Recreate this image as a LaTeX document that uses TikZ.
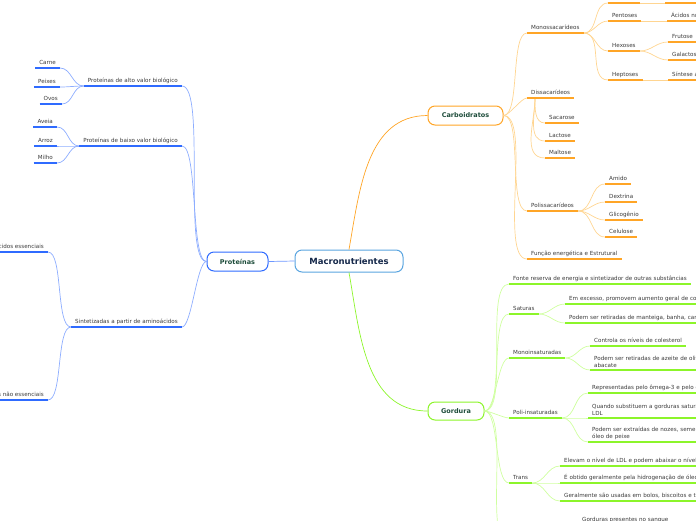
\documentclass[tikz,border=0pt]{standalone}
\usepackage{fontspec}
\setmainfont{DejaVu Sans}
\usepackage{xcolor}
\definecolor{protbarc}{HTML}{2F6BFF}
\definecolor{protlinec}{HTML}{8DADFF}
\definecolor{carbbarc}{HTML}{FFA526}
\definecolor{carblinec}{HTML}{FFD591}
\definecolor{gordbarc}{HTML}{8CF52A}
\definecolor{gordlinec}{HTML}{CFFFA0}
\definecolor{leaftext}{HTML}{3A3A3A}
\definecolor{hubtext}{HTML}{1E4D3B}
\definecolor{macroedge}{HTML}{5AA5E0}
\definecolor{macrotext}{HTML}{15284A}
\tikzset{
    leafbase/.style={font=\fontsize{5.6}{7}\selectfont, text=leaftext, inner xsep=4pt, inner ysep=2.2pt},
    leaf/.style={leafbase, text height=4.2pt, text depth=1.3pt},
    cutleaf/.style={leaf, text width=170pt, align=left},
    twoline/.style={leafbase, text width=170pt, align=left},
    blank/.style={leaf, minimum width=#1},
    bar/.style={draw=#1, line width=1.7pt},
    twig/.style={draw=#1, line width=0.7pt},
    hub/.style={draw=#1, line width=1pt, fill=white, rounded corners=7pt, text=hubtext,
        font=\fontsize{6.5}{8}\selectfont\bfseries, inner sep=0pt}
}
\begin{document}
\begin{tikzpicture}[x=1pt, y=-1pt]
    \useasboundingbox (0,0) rectangle (696,520);
    \clip (0,0) rectangle (696,520);

    % centre and main topics
    \node[hub=macroedge, text=macrotext, font=\fontsize{8.5}{10}\selectfont\bfseries,
        minimum width=108pt, minimum height=22pt] (macro) at (349,261) {Macronutrientes};
    \node[hub=protbarc, minimum width=61pt, minimum height=19pt] (prot) at (237.5,261.5) {Proteínas};
    \node[hub=carbbarc, minimum width=75pt, minimum height=19pt] (carb) at (465.5,115.5) {Carboidratos};
    \node[hub=gordbarc, minimum width=56pt, minimum height=18pt] (gord) at (456,411) {Gordura};

    % Proteinas (left side)
    \node[leaf, anchor=south east] (alto) at (182,86) {Proteínas de alto valor biológico};
    \node[leaf, anchor=south east] (baixo) at (182,146) {Proteínas de baixo valor biológico};
    \node[leaf, anchor=south east] (sint) at (182,327) {Sintetizadas a partir de aminoácidos};
    \node[leaf, anchor=south east] (carne) at (60,68) {Carne};
    \node[leaf, anchor=south east] (peixes) at (60,87) {Peixes};
    \node[leaf, anchor=south east] (ovos) at (62,104) {Ovos};
    \node[leaf, anchor=south east] (aveia) at (57,127) {Aveia};
    \node[leaf, anchor=south east] (arroz) at (57,146) {Arroz};
    \node[leaf, anchor=south east] (milho) at (57,163) {Milho};
    \node[leaf, anchor=south east] (essen) at (48,252) {Aminoácidos essenciais};
    \node[leaf, anchor=south east] (nessen) at (48,400) {Aminoácidos não essenciais};

    % Carboidratos
    \node[leaf, anchor=south west] (mono) at (527,33) {Monossacarídeos};
    \node[leaf, anchor=south west] (dis) at (527,98) {Dissacarídeos};
    \node[leaf, anchor=south west] (poli) at (527,211) {Polissacarídeos};
    \node[leaf, anchor=south west] (func) at (527,259) {Função energética e Estrutural};
    \node[blank=32pt, anchor=south west] (trio) at (608,3) {};
    \node[blank=40pt, anchor=south west] (triox) at (665,3) {};
    \node[leaf, anchor=south west] (pent) at (608,21) {Pentoses};
    \node[cutleaf, anchor=south west] (acid) at (667,21) {Ácidos nucleicos};
    \node[leaf, anchor=south west] (hex) at (608,51) {Hexoses};
    \node[leaf, anchor=south west] (frut) at (668,42) {Frutose};
    \node[cutleaf, anchor=south west] (gala) at (668,60) {Galactose};
    \node[leaf, anchor=south west] (hept) at (608,80) {Heptoses};
    \node[cutleaf, anchor=south west] (sinta) at (668,80) {Síntese a};
    \node[leaf, anchor=south west] (sac) at (545,123) {Sacarose};
    \node[leaf, anchor=south west] (lac) at (545,141) {Lactose};
    \node[leaf, anchor=south west] (mal) at (545,158) {Maltose};
    \node[leaf, anchor=south west] (ami) at (605,184) {Amido};
    \node[leaf, anchor=south west] (dex) at (605,202) {Dextrina};
    \node[leaf, anchor=south west] (gli) at (605,220) {Glicogênio};
    \node[leaf, anchor=south west] (cel) at (605,237) {Celulose};

    % Gordura
    \node[leaf, anchor=south west] (fonte) at (509,284) {Fonte reserva de energia e sintetizador de outras substâncias};
    \node[leaf, anchor=south west] (sat) at (509,314) {Saturas};
    \node[cutleaf, anchor=south west] (sata) at (565,304) {Em excesso, promovem aumento geral de colesterol};
    \node[cutleaf, anchor=south west] (satb) at (565,323) {Podem ser retiradas de manteiga, banha, carnes};
    \node[leaf, anchor=south west] (monoins) at (509,358) {Monoinsaturadas};
    \node[leaf, anchor=south west] (mona) at (590,346) {Controla os níveis de colesterol};
    \node[twoline, anchor=south west] (monb) at (590,370) {Podem ser retiradas de azeite de oliva e\\abacate};
    \node[leaf, anchor=south west] (polins) at (509,418) {Poli-insaturadas};
    \node[cutleaf, anchor=south west] (pa) at (588,393) {Representadas pelo ômega-3 e pelo ômega-6};
    \node[twoline, anchor=south west] (pb) at (588,418) {Quando substituem a gorduras saturadas\\LDL};
    \node[twoline, anchor=south west] (pc) at (588,442) {Podem ser extraídas de nozes, sementes\\óleo de peixe};
    \node[leaf, anchor=south west] (trans) at (509,483) {Trans};
    \node[cutleaf, anchor=south west] (ta) at (560,466) {Elevam o nível de LDL e podem abaixar o nível c};
    \node[cutleaf, anchor=south west] (tb) at (560,483) {É obtido geralmente pela hidrogenação de óleos};
    \node[cutleaf, anchor=south west] (tc) at (560,501) {Geralmente são usadas em bolos, biscoitos e tortas};
    \coordinate (gsub) at (509,545);
    \node[leaf, anchor=south west] (sangue) at (578,525) {Gorduras presentes no sangue};

    % connectors from the centre
    \draw[twig=protbarc!70] (macro.west) -- (prot.east);
    \draw[twig=carbbarc] (macro.north) to[out=80, in=180] (carb.west);
    \draw[twig=gordbarc] (macro.south) to[out=-80, in=180] (gord.west);

    % Proteinas branches
    \foreach \n in {alto,baixo,sint}
        \draw[twig=protlinec] (prot.west) to[out=180, in=0, looseness=0.35] (\n.south east);
    \foreach \n in {carne,peixes,ovos}
        \draw[twig=protlinec] (alto.south west) to[out=180, in=0] (\n.south east);
    \foreach \n in {aveia,arroz,milho}
        \draw[twig=protlinec] (baixo.south west) to[out=180, in=0] (\n.south east);
    \foreach \n in {essen,nessen}
        \draw[twig=protlinec] (sint.south west) to[out=180, in=0, looseness=0.5] (\n.south east);
    \foreach \n in {alto,baixo,sint,carne,peixes,ovos,aveia,arroz,milho,essen,nessen}
        \draw[bar=protbarc] (\n.south west) -- (\n.south east);

    % Carboidratos branches
    \foreach \n in {mono,dis,poli,func}
        \draw[twig=carblinec] (carb.east) to[out=0, in=180, looseness=0.5] (\n.south west);
    \foreach \n in {trio,pent,hex,hept}
        \draw[twig=carblinec] (mono.south east) to[out=0, in=180] (\n.south west);
    \draw[twig=carblinec] (trio.south east) -- (triox.south west);
    \draw[twig=carblinec] (pent.south east) -- (acid.south west);
    \draw[twig=carblinec] (hept.south east) -- (sinta.south west);
    \foreach \n in {frut,gala}
        \draw[twig=carblinec] (hex.south east) to[out=0, in=180] (\n.south west);
    \foreach \n in {sac,lac,mal}
        \draw[twig=carblinec] ([xshift=8pt]dis.south west) to[out=-90, in=180] (\n.south west);
    \foreach \n in {ami,dex,gli,cel}
        \draw[twig=carblinec] (poli.south east) to[out=0, in=180] (\n.south west);
    \foreach \n in {mono,dis,poli,func,trio,triox,pent,acid,hex,frut,gala,hept,sinta,sac,lac,mal,ami,dex,gli,cel}
        \draw[bar=carbbarc] (\n.south west) -- (\n.south east);

    % Gordura branches
    \foreach \n in {fonte,sat,monoins,polins,trans}
        \draw[twig=gordlinec] (gord.east) to[out=0, in=180, looseness=0.5] (\n.south west);
    \draw[twig=gordlinec] (gord.east) to[out=0, in=180, looseness=0.5] (gsub);
    \foreach \n in {sata,satb}
        \draw[twig=gordlinec] (sat.south east) to[out=0, in=180] (\n.south west);
    \foreach \n in {mona,monb}
        \draw[twig=gordlinec] (monoins.south east) to[out=0, in=180] (\n.south west);
    \foreach \n in {pa,pb,pc}
        \draw[twig=gordlinec] (polins.south east) to[out=0, in=180] (\n.south west);
    \foreach \n in {ta,tb,tc}
        \draw[twig=gordlinec] (trans.south east) to[out=0, in=180] (\n.south west);
    \draw[twig=gordlinec] (gsub) to[out=0, in=180] (sangue.south west);
    \foreach \n in {fonte,sat,sata,satb,monoins,mona,monb,polins,pa,pb,pc,trans,ta,tb,tc,sangue}
        \draw[bar=gordbarc] (\n.south west) -- (\n.south east);
\end{tikzpicture}
\end{document}
